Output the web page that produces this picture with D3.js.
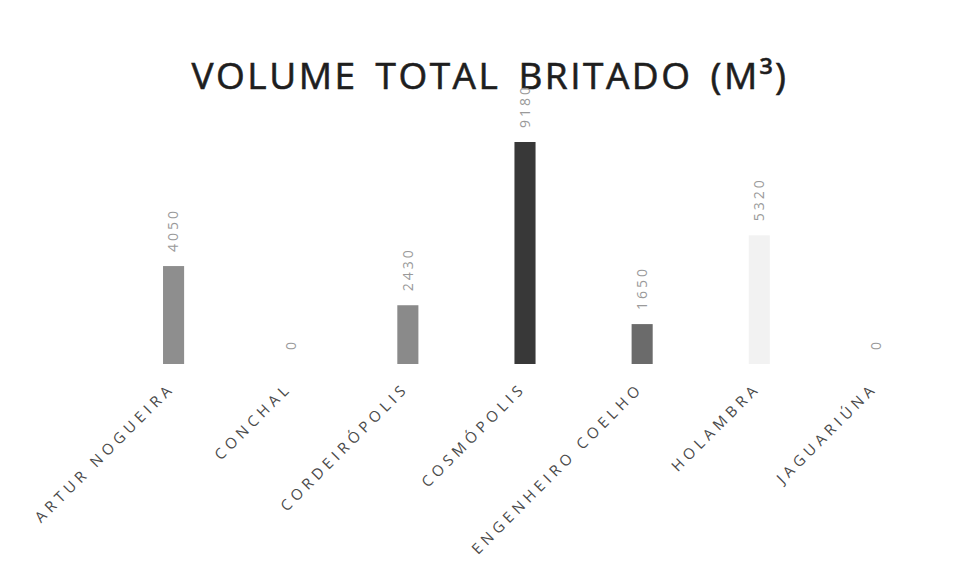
<!DOCTYPE html>
<html>
<head>
<meta charset="utf-8">
<script src="https://cdn.jsdelivr.net/npm/d3@7"></script>
<style>
  body { margin: 0; background: #fff; }
  svg text { font-family: "Open Sans", sans-serif; }
</style>
</head>
<body>
<div id="chart"></div>
<script>
// data
const cities = ["ARTUR NOGUEIRA", "CONCHAL", "CORDEIRÓPOLIS", "COSMÓPOLIS", "ENGENHEIRO COELHO", "HOLAMBRA", "JAGUARIÚNA"];
const volumes = [4050, 0, 2430, 9180, 1650, 5320, 0];
const barColors = ["#8e8e8e", "#8e8e8e", "#8a8a8a", "#383838", "#6b6b6b", "#f2f2f2", "#8e8e8e"];
const titleText = "VOLUME TOTAL BRITADO (M³)";

let width = 956, height = 583;
let svg = d3.select("#chart").append("svg").attr("width", width).attr("height", height);

let leftx = 115, rightx = 935, baseline = 364, topy = 142;

let x = d3.scaleBand().domain(cities).range([leftx, rightx]).paddingInner(0.82).paddingOuter(0.41);
let y = d3.scaleLinear().domain([0, d3.max(volumes)]).range([baseline, topy]);

let data = cities.map((c, i) => ({city: c, v: volumes[i], color: barColors[i]}));

svg.append("text")
    .attr("x", 490).attr("y", 89)
    .attr("text-anchor", "middle")
    .style("font-size", "37px")
    .style("letter-spacing", "2.5px")
    .style("word-spacing", "6px")
    .style("fill", "#1e1e1e")
    .style("stroke", "#1e1e1e")
    .style("stroke-width", "0.6px")
    .text(titleText);

svg.selectAll("rect.bar").data(data).join("rect")
    .attr("class", "bar")
    .attr("x", d => x(d.city))
    .attr("width", x.bandwidth())
    .attr("y", d => y(d.v))
    .attr("height", d => baseline - y(d.v))
    .style("fill", d => d.color);

// value labels, rotated
svg.selectAll("text.val").data(data).join("text")
    .attr("class", "val")
    .attr("transform", d => "translate(" + (x(d.city) + x.bandwidth() / 2) + "," + (y(d.v) - 14) + ") rotate(-90)")
    .attr("dy", "0.35em")
    .style("font-size", "14px")
    .style("letter-spacing", "3px")
    .style("fill", "#9a9a9a")
    .text(d => d.v);

// category labels, 45 degrees
let xaxis = d3.axisBottom(x).tickSize(0).tickPadding(0);
let ax = svg.append("g").attr("transform", "translate(0," + baseline + ")").call(xaxis);
ax.select(".domain").remove();
ax.selectAll("text")
    .attr("transform", "translate(2,25) rotate(-45)")
    .attr("text-anchor", "end")
    .attr("dy", "0")
    .style("font-family", "Open Sans, sans-serif")
    .style("font-size", "15px")
    .style("letter-spacing", "4.5px")
    .style("fill", "#4a4a4a");
</script>
</body>
</html>
